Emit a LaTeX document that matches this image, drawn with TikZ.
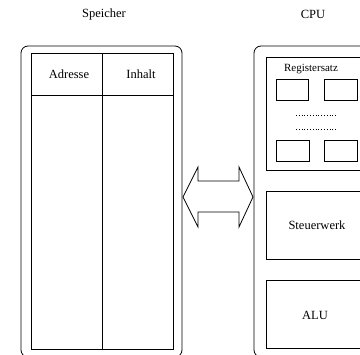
\documentclass[tikz,border=0pt]{standalone}
\usepackage{fontspec}
\setmainfont{Liberation Serif}
\tikzset{
  lbl/.style={font=\fontsize{12.5}{14}\selectfont,inner sep=0pt},
  rlbl/.style={font=\fontsize{11}{13}\selectfont,inner sep=0pt},
  frame/.style={draw,line width=0.8pt,rounded corners=7pt},
  part/.style={draw,line width=0.8pt},
}
\begin{document}
\begin{tikzpicture}[x=1pt,y=-1pt]
\useasboundingbox (0,0) rectangle (360,355);
\clip (0,0) rectangle (360,355);
% Speicher
\node[lbl] (speicher) at (104,14) {Speicher};
\draw[frame] (21,46) rectangle (182,357);
\draw[part] (31,53) rectangle (173,349);
\draw[part] (31,95)--(173,95);
\draw[part] (102,53)--(102,349);
\node[lbl] (adr) at (69,74) {Adresse};
\node[lbl] (inh) at (141,74) {Inhalt};
% CPU
\node[lbl] (cpu) at (313,14) {CPU};
\draw[frame] (254,46) rectangle (372,357);
\draw[part] (266,57) rectangle (366,170);
\node[rlbl] (regs) at (311,69) {Registersatz};
\draw[part] (276,79) rectangle (308,100);
\draw[part] (324,79) rectangle (357,100);
\draw[part,dotted,line width=0.5pt] (296,115)--(336,115);
\draw[part,dotted,line width=0.5pt] (296,129)--(336,129);
\draw[part] (276,140) rectangle (309,161);
\draw[part] (324,140) rectangle (357,161);
\draw[part] (266,191) rectangle (366,259);
\node[lbl] (stw) at (317,225) {Steuerwerk};
\draw[part] (266,280) rectangle (366,348);
\node[lbl] (alu) at (315,315) {ALU};
% Bus
\draw[part] (183,197)--(198,167)--(198,181)--(239,181)--(239,167)--(253,197)
  --(239,227)--(239,212)--(198,212)--(198,227)--cycle;
\end{tikzpicture}
\end{document}
